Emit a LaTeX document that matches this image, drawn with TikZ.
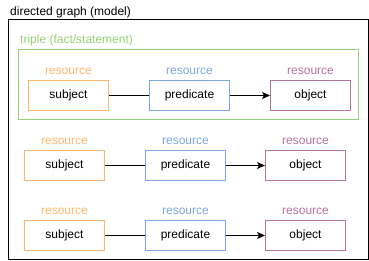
\documentclass[tikz,border=0pt]{standalone}
\usepackage{fontspec}
\setmainfont{Liberation Sans}
\usetikzlibrary{arrows.meta, positioning}
\definecolor{subjC}{HTML}{FFB570}
\definecolor{predC}{HTML}{7EA6E0}
\definecolor{objC}{HTML}{B5739D}
\definecolor{tripC}{HTML}{97D077}
\tikzset{
  res/.style    = {rectangle, draw, line width=1pt, minimum width=80pt,
                   minimum height=30pt, inner sep=0pt, anchor=north west,
                   font=\fontsize{12}{14}\selectfont},
  reslabel/.style = {inner sep=0pt, font=\fontsize{12}{14}\selectfont},
  link/.style   = {line width=1pt},
  flow/.style   = {-{Stealth[length=8pt, width=7pt, inset=2pt]}, line width=1pt},
  frame/.style  = {draw, line width=1pt},
}
\begin{document}
\begin{tikzpicture}[x=1pt, y=-1pt]
  \useasboundingbox (0,0) rectangle (369,261);
  % outer model frame and triple frame
  \node[reslabel, anchor=west] (title) at (10,12) {directed graph (model)};
  \draw[frame] (8,20) rectangle (368,260);
  \node[reslabel, anchor=west, text=tripC] (triple) at (20,40) {triple (fact/statement)};
  \draw[frame, draw=tripC] (18,50) rectangle (358,120);

  % first triple
  \node[res, draw=subjC] (s1) at (28,80) {subject};
  \node[res, draw=predC, right=40pt of s1.north east, anchor=north west] (p1) {predicate};
  \node[res, draw=objC, right=40pt of p1.north east, anchor=north west] (o1) {object};

  % second triple
  \node[res, draw=subjC] (s2) at (24,150) {subject};
  \node[res, draw=predC, right=40pt of s2.north east, anchor=north west] (p2) {predicate};
  \node[res, draw=objC, right=39pt of p2.north east, anchor=north west] (o2) {object};

  % third triple
  \node[res, draw=subjC] (s3) at (24,220) {subject};
  \node[res, draw=predC, right=40pt of s3.north east, anchor=north west] (p3) {predicate};
  \node[res, draw=objC, right=39pt of p3.north east, anchor=north west] (o3) {object};

  % resource labels
  \foreach \n in {1,2,3} {
    \node[reslabel, text=subjC, above=5pt of s\n] (ls\n) {resource};
    \node[reslabel, text=predC, above=5pt of p\n] (lp\n) {resource};
    \node[reslabel, text=objC, above=5pt of o\n] (lo\n) {resource};
    \draw[link] (s\n) -- (p\n);
    \draw[flow] (p\n) -- (o\n);
  }
\end{tikzpicture}
\end{document}
